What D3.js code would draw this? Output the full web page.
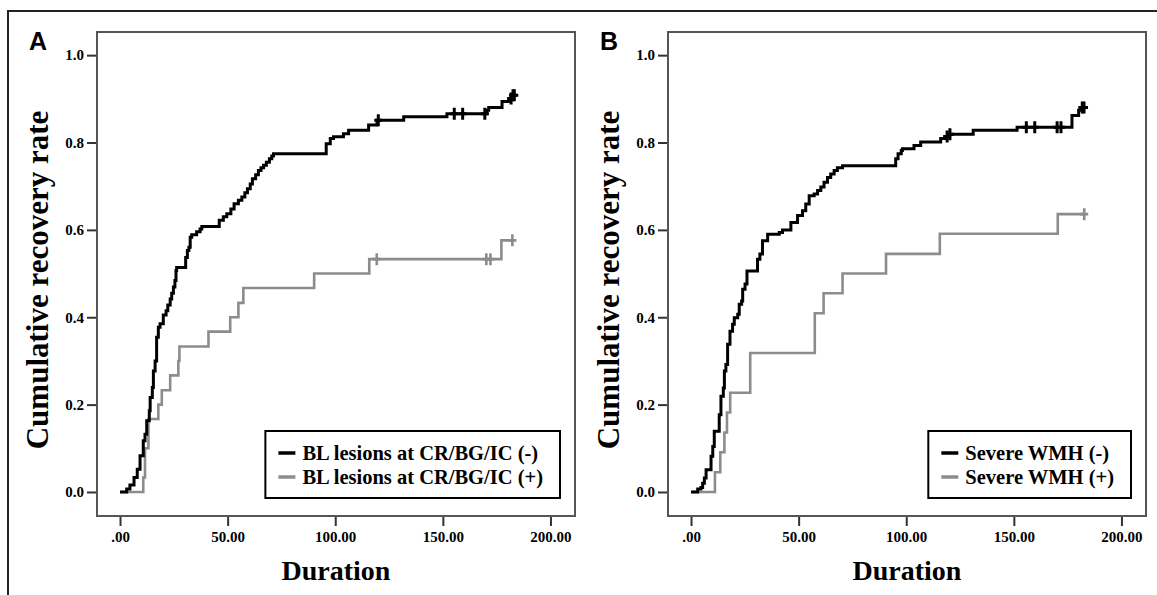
<!DOCTYPE html>
<meta charset="utf-8">
<style>
body { margin: 0; background: #fff; }
svg { display: block; }
.tick text { font-family: "Liberation Serif", "Times New Roman", serif; font-weight: bold; fill: #000; }
.title { font-family: "Liberation Serif", "Times New Roman", serif; font-weight: bold; fill: #000; }
.legend text { font-family: "Liberation Serif", "Times New Roman", serif; font-weight: bold; font-size: 20.5px; fill: #000; }
.letter { font-family: "Liberation Sans", Arial, sans-serif; font-weight: bold; font-size: 25px; }
</style>
<body>
<script src="https://d3js.org/d3.v7.min.js"></script>
<script>

// tick labels
var xTicks = [0, 50, 100, 150, 200];
var yTicks = [0, 0.2, 0.4, 0.6, 0.8, 1.0];

// panel A: BL lesions at CR/BG/IC
var legendA = ["BL lesions at CR/BG/IC (-)", "BL lesions at CR/BG/IC (+)"];
var aNegTime = [0, 3.1, 4.6, 6.5, 8.0, 9.3, 10.8, 11.6, 12.4, 13.6, 14.0, 15.0, 15.5, 16.3, 17.0, 17.8, 18.6, 20.1, 21.4, 22.2, 23.3, 24.0, 24.8, 25.5, 26.0, 26.3, 30.5, 31.3, 32.0, 32.6, 33.3, 35.6, 37.2, 38.0, 46.1, 48.0, 49.6, 51.5, 53.0, 55.0, 56.6, 58.0, 59.2, 60.5, 61.5, 63.0, 64.3, 65.5, 66.7, 68.0, 69.4, 70.5, 71.3, 95.8, 97.7, 99.2, 103.8, 106.2, 115.5, 119.4, 131.8, 151.9, 170.5, 171.3, 177.5, 181.4, 182.0];
var aNegRate = [0, 0.007, 0.016, 0.033, 0.052, 0.083, 0.117, 0.132, 0.163, 0.186, 0.216, 0.239, 0.277, 0.300, 0.354, 0.377, 0.385, 0.405, 0.415, 0.428, 0.442, 0.455, 0.469, 0.484, 0.507, 0.514, 0.537, 0.553, 0.560, 0.583, 0.589, 0.596, 0.602, 0.608, 0.622, 0.630, 0.637, 0.648, 0.660, 0.668, 0.675, 0.685, 0.694, 0.705, 0.717, 0.726, 0.736, 0.742, 0.748, 0.755, 0.763, 0.769, 0.774, 0.797, 0.809, 0.813, 0.820, 0.828, 0.840, 0.851, 0.859, 0.866, 0.874, 0.880, 0.894, 0.901, 0.908];
var aNegCensor = [120.0, 155.3, 159.2, 169.5, 181.7, 182.6, 183.2];

var aPosTime = [0, 10.8, 11.6, 13.2, 17.8, 19.4, 23.3, 27.1, 27.6, 41.1, 51.2, 55.0, 57.3, 90.2, 115.8, 177.2];
var aPosRate = [0, 0.033, 0.100, 0.167, 0.200, 0.233, 0.267, 0.300, 0.333, 0.367, 0.400, 0.433, 0.467, 0.500, 0.533, 0.576];
var aPosCensor = [119.3, 170.2, 172.1, 182.3];

// panel B: severe WMH
var legendB = ["Severe WMH (-)", "Severe WMH (+)"];
var bNegTime = [0, 3.1, 4.6, 5.4, 6.2, 7.0, 9.3, 10.1, 10.8, 13.1, 13.9, 15.0, 15.5, 16.2, 17.0, 18.1, 19.3, 20.1, 21.7, 22.4, 23.5, 24.0, 25.1, 26.0, 30.9, 32.0, 33.2, 35.6, 41.0, 42.5, 46.4, 49.5, 51.8, 53.3, 54.9, 57.2, 58.8, 60.3, 61.8, 63.4, 64.9, 66.5, 68.0, 70.4, 95.1, 96.2, 97.7, 98.2, 103.6, 106.7, 116.0, 118.3, 119.8, 131.1, 151.5, 177.0, 180.1, 181.2];
var bNegRate = [0, 0.007, 0.010, 0.020, 0.032, 0.051, 0.082, 0.104, 0.139, 0.177, 0.219, 0.238, 0.277, 0.292, 0.338, 0.368, 0.384, 0.399, 0.407, 0.430, 0.437, 0.464, 0.476, 0.506, 0.533, 0.545, 0.575, 0.590, 0.594, 0.600, 0.617, 0.633, 0.644, 0.659, 0.678, 0.682, 0.690, 0.698, 0.709, 0.720, 0.728, 0.736, 0.742, 0.747, 0.763, 0.774, 0.782, 0.786, 0.793, 0.801, 0.809, 0.814, 0.819, 0.828, 0.835, 0.862, 0.874, 0.880];
var bNegCensor = [119.0, 120.3, 155.8, 159.7, 170.1, 171.9, 181.8, 182.6];

var bPosTime = [0, 11.1, 13.6, 15.5, 16.7, 18.2, 27.5, 57.5, 61.6, 70.4, 90.6, 115.6, 170.4];
var bPosRate = [0, 0.045, 0.091, 0.136, 0.182, 0.227, 0.318, 0.409, 0.455, 0.500, 0.545, 0.591, 0.636];
var bPosCensor = [182.7];

var svg = d3.select("body").append("svg")
    .attr("width", 1157)
    .attr("height", 595);

// outer frame
svg.append("rect")
    .attr("x", 8).attr("y", 11)
    .attr("width", 1200).attr("height", 700)
    .attr("fill", "none").attr("stroke", "#222").attr("stroke-width", 2);

var w = 478, h = 484, plotTop = 32;

var x = d3.scaleLinear().domain([-10.7, 211.4]).range([0, w]);
var y = d3.scaleLinear().domain([-0.055, 1.053]).range([h, 0]);

var panels = [
  {letter: "A", left: 97, legend: legendA,
   series: [{t: aPosTime, v: aPosRate, c: aPosCensor, color: "#8c8c8c", sw: 2.6},
            {t: aNegTime, v: aNegRate, c: aNegCensor, color: "#000", sw: 3}]},
  {letter: "B", left: 668, legend: legendB,
   series: [{t: bPosTime, v: bPosRate, c: bPosCensor, color: "#8c8c8c", sw: 2.6},
            {t: bNegTime, v: bNegRate, c: bNegCensor, color: "#000", sw: 3}]}
];

var line = d3.line()
    .x(function(d) { return x(d[0]); })
    .y(function(d) { return y(d[1]); })
    .curve(d3.curveStepAfter);

function rateAt(s, t) {
  var r = 0;
  s.t.forEach(function(tt, i) { if (tt <= t) r = s.v[i]; });
  return r;
}

panels.forEach(function(p) {
  svg.append("text").attr("class", "letter")
      .attr("x", p.left - 68).attr("y", 50).text(p.letter);

  var g = svg.append("g").attr("transform", "translate(" + p.left + "," + plotTop + ")");

  // y axis
  var ya = g.append("g")
      .call(d3.axisLeft(y).tickValues(yTicks).tickSize(10).tickPadding(3)
        .tickFormat(d3.format(".1f")));
  ya.selectAll("text").style("font-size", "15px");

  // x axis
  var xa = g.append("g").attr("transform", "translate(0," + h + ")")
      .call(d3.axisBottom(x).tickValues(xTicks).tickSize(10).tickPadding(5)
        .tickFormat(function(d) { return d === 0 ? ".00" : d3.format(".2f")(d); }));
  xa.selectAll("text").style("font-size", "15px");

  [ya, xa].forEach(function(a) {
    a.select(".domain").remove();
    a.selectAll(".tick line").attr("stroke", "#333").attr("stroke-width", 2);
  });

  // plot frame
  g.append("rect").attr("width", w).attr("height", h)
      .attr("fill", "none").attr("stroke", "#555").attr("stroke-width", 2);

  p.series.forEach(function(s) {
    var pts = s.t.map(function(t, i) { return [t, s.v[i]]; });
    pts.push([d3.max(s.c), s.v[s.v.length - 1]]);
    g.append("path").datum(pts)
        .attr("d", line)
        .attr("fill", "none")
        .attr("stroke", s.color)
        .attr("stroke-width", s.sw);
    g.selectAll(null).data(s.c).enter().append("path")
        .attr("d", function(t) {
          var cx = x(t), cy = y(rateAt(s, t));
          return "M" + cx + "," + (cy - 6) + "V" + (cy + 6) + "M" + (cx - 4) + "," + cy + "H" + (cx + 4);
        })
        .attr("fill", "none")
        .attr("stroke", s.color)
        .attr("stroke-width", s.sw);
  });

  // axis titles
  g.append("text").attr("class", "title")
      .attr("x", w / 2).attr("y", h + 64)
      .attr("text-anchor", "middle")
      .style("font-size", "28px")
      .text("Duration");
  g.append("text").attr("class", "title")
      .attr("transform", "translate(-49," + (h / 2 + 6) + ") rotate(-90)")
      .attr("text-anchor", "middle")
      .style("font-size", "31px")
      .text("Cumulative recovery rate");

  // legend
  var lg = g.append("g").attr("class", "legend");
  var txt = lg.selectAll("text").data(p.legend).enter().append("text")
      .attr("dy", "0.35em")
      .text(function(d) { return d; });
  var tw = d3.max(txt.nodes(), function(n) { return n.getComputedTextLength(); });
  var lx = w - 15 - (tw + 54), ly = 399;
  lg.attr("transform", "translate(" + lx + "," + ly + ")");
  lg.insert("rect", "text").attr("width", tw + 54).attr("height", 67)
      .attr("fill", "#fff").attr("stroke", "#000").attr("stroke-width", 2);
  txt.attr("x", 37).attr("y", function(d, i) { return 22 + i * 24; });
  lg.selectAll("line").data(["#000", "#8c8c8c"]).enter().append("line")
      .attr("x1", 13).attr("x2", 30)
      .attr("y1", function(d, i) { return 22 + i * 24; })
      .attr("y2", function(d, i) { return 22 + i * 24; })
      .attr("stroke", function(d) { return d; })
      .attr("stroke-width", 3.5);
});

</script>
</body>
